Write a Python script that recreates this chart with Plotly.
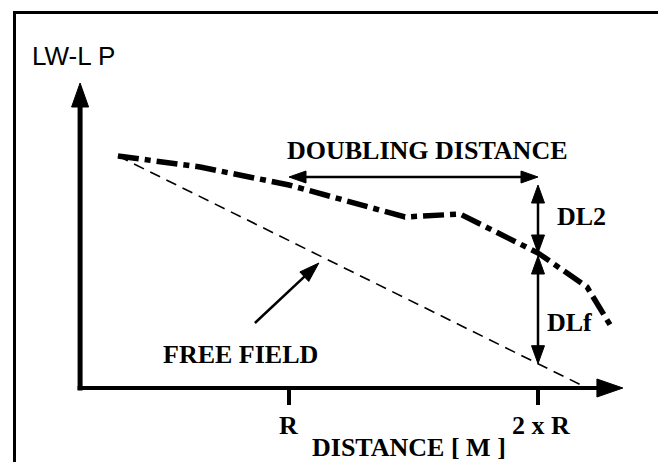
import math
import plotly.graph_objects as go

# ---------------- data (distance in units of R, level in arbitrary dB units) ----------------
curve_distance = [0.313, 0.482, 0.643, 1.0, 1.466, 1.687, 2.0, 2.197, 2.297]
curve_level = [11.6, 11.35, 11.05, 10.15, 8.55, 8.7, 6.75, 5.05, 3.0]

free_field_distance = [0.313, 2.173]
free_field_level = [11.6, 0.15]

axis_origin_distance = 0.161
axis_origin_level = 0.0
x_axis_end = 2.341
y_axis_end = 15.25

tick_positions = [1.0, 2.0]
tick_labels = ["R", "2 x R"]

doubling_level = 10.55          # level of the "doubling distance" arrow
free_field_pointer_from = (0.863, 3.25)
free_field_pointer_to = (1.12, 6.25)

# ---------------- layout / scale ----------------
W, H = 658, 462
PX_PER_X = 249.0
PX_PER_Y = 20.0
X0 = 1 - 289 / PX_PER_X          # data x at left edge of figure
Y0 = 388 / PX_PER_Y              # data y at top edge of figure


def to_px(x, y):
    return ((x - X0) * PX_PER_X, (Y0 - y) * PX_PER_Y)


def from_px(px, py):
    return (X0 + px / PX_PER_X, Y0 - py / PX_PER_Y)


def interp(xs, ys, x):
    for i in range(len(xs) - 1):
        if xs[i] <= x <= xs[i + 1]:
            t = (x - xs[i]) / (xs[i + 1] - xs[i])
            return ys[i] + t * (ys[i + 1] - ys[i])
    return ys[-1]


fig = go.Figure()


def line(xs, ys, width, dash="solid"):
    fig.add_trace(go.Scatter(x=xs, y=ys, mode="lines",
                             line=dict(color="black", width=width, dash=dash),
                             hoverinfo="skip", showlegend=False))


def head(tip, base_dir, length, half):
    bx = tip[0] - base_dir[0] * length
    by = tip[1] - base_dir[1] * length
    nx, ny = -base_dir[1], base_dir[0]
    pts = [tip, (bx + nx * half, by + ny * half), (bx - nx * half, by - ny * half), tip]
    d = [from_px(*p) for p in pts]
    fig.add_trace(go.Scatter(x=[p[0] for p in d], y=[p[1] for p in d], mode="lines",
                             fill="toself", fillcolor="black",
                             line=dict(color="black", width=1),
                             hoverinfo="skip", showlegend=False))


def arrow(x0, y0, x1, y1, width, length, half, both=False):
    p0 = to_px(x0, y0)
    p1 = to_px(x1, y1)
    dx, dy = p1[0] - p0[0], p1[1] - p0[1]
    n = math.hypot(dx, dy)
    u = (dx / n, dy / n)
    s1 = (p1[0] - u[0] * length * 0.7, p1[1] - u[1] * length * 0.7)
    s0 = p0
    if both:
        s0 = (p0[0] + u[0] * length * 0.7, p0[1] + u[1] * length * 0.7)
    a = from_px(*s0)
    b = from_px(*s1)
    line([a[0], b[0]], [a[1], b[1]], width)
    head(p1, u, length, half)
    if both:
        head(p0, (-u[0], -u[1]), length, half)


# ---------------- axes (drawn as arrows) ----------------
ox, oy = axis_origin_distance, axis_origin_level
arrow(ox, oy - 0.12, ox, y_axis_end, 5, 24, 8.5)
arrow(ox - 0.01, oy, x_axis_end, oy, 4, 26, 9)

for t in tick_positions:
    line([t, t], [oy, oy - 0.85], 4)

# ---------------- curves ----------------
line(free_field_distance, free_field_level, 1.6, dash="11px,7px")
line(curve_distance, curve_level, 5.5, dash="21px,6px,6px,6px")

# ---------------- dimension arrows ----------------
L_R = interp(curve_distance, curve_level, 1.0)
L_2R = interp(curve_distance, curve_level, 2.0)
FF_2R = interp(free_field_distance, free_field_level, 2.0)

arrow(1.0, doubling_level, 2.0, doubling_level, 2.5, 17, 6, both=True)
arrow(2.0, L_2R, 2.0, L_R, 2.5, 18, 6.5, both=True)
arrow(2.0, L_2R - 0.15, 2.0, FF_2R, 2.5, 18, 6.5, both=True)
arrow(free_field_pointer_from[0], free_field_pointer_from[1],
      free_field_pointer_to[0], free_field_pointer_to[1], 2.5, 20, 6.5)

# ---------------- texts ----------------
serif = dict(family="Liberation Serif, Times New Roman, serif", size=26, color="black")


def label(text, px, py, xanchor="center", font=serif):
    x, y = from_px(px, py)
    fig.add_annotation(x=x, y=y, text=text, showarrow=False, xanchor=xanchor,
                       yanchor="middle", font=font, borderpad=0)


label("<b>DOUBLING DISTANCE</b>", 427, 150)
label("<b>DL2</b>", 556, 216, xanchor="left")
label("<b>DLf</b>", 546, 322, xanchor="left")
label("<b>FREE FIELD</b>", 240, 354)
for t, lab in zip(tick_positions, tick_labels):
    px, _ = to_px(t, 0)
    label("<b>%s</b>" % lab, px + (3 if lab != "R" else -1), 425)
label("<b>DISTANCE [ M ]</b>", 409, 447)
label("LW-L P", 31, 56, xanchor="left",
      font=dict(family="Liberation Sans, Arial, sans-serif", size=26, color="black"))

# frame (top and left edges visible)
fig.add_shape(type="line", xref="paper", yref="paper", x0=14 / W, x1=1.02,
              y0=1 - 12.5 / H, y1=1 - 12.5 / H, line=dict(color="black", width=3))
fig.add_shape(type="line", xref="paper", yref="paper", x0=14.5 / W, x1=14.5 / W,
              y0=-0.02, y1=1 - 11 / H, line=dict(color="black", width=3))

fig.update_layout(
    width=W, height=H, margin=dict(l=0, r=0, t=0, b=0),
    paper_bgcolor="white", plot_bgcolor="white", showlegend=False,
    xaxis=dict(range=[X0, X0 + W / PX_PER_X], visible=False, fixedrange=True),
    yaxis=dict(range=[Y0 - H / PX_PER_Y, Y0], visible=False, fixedrange=True),
)

fig.write_html("out.html", config={"displayModeBar": False},
               post_script="document.body.style.margin='0px';document.body.style.overflow='hidden';")
